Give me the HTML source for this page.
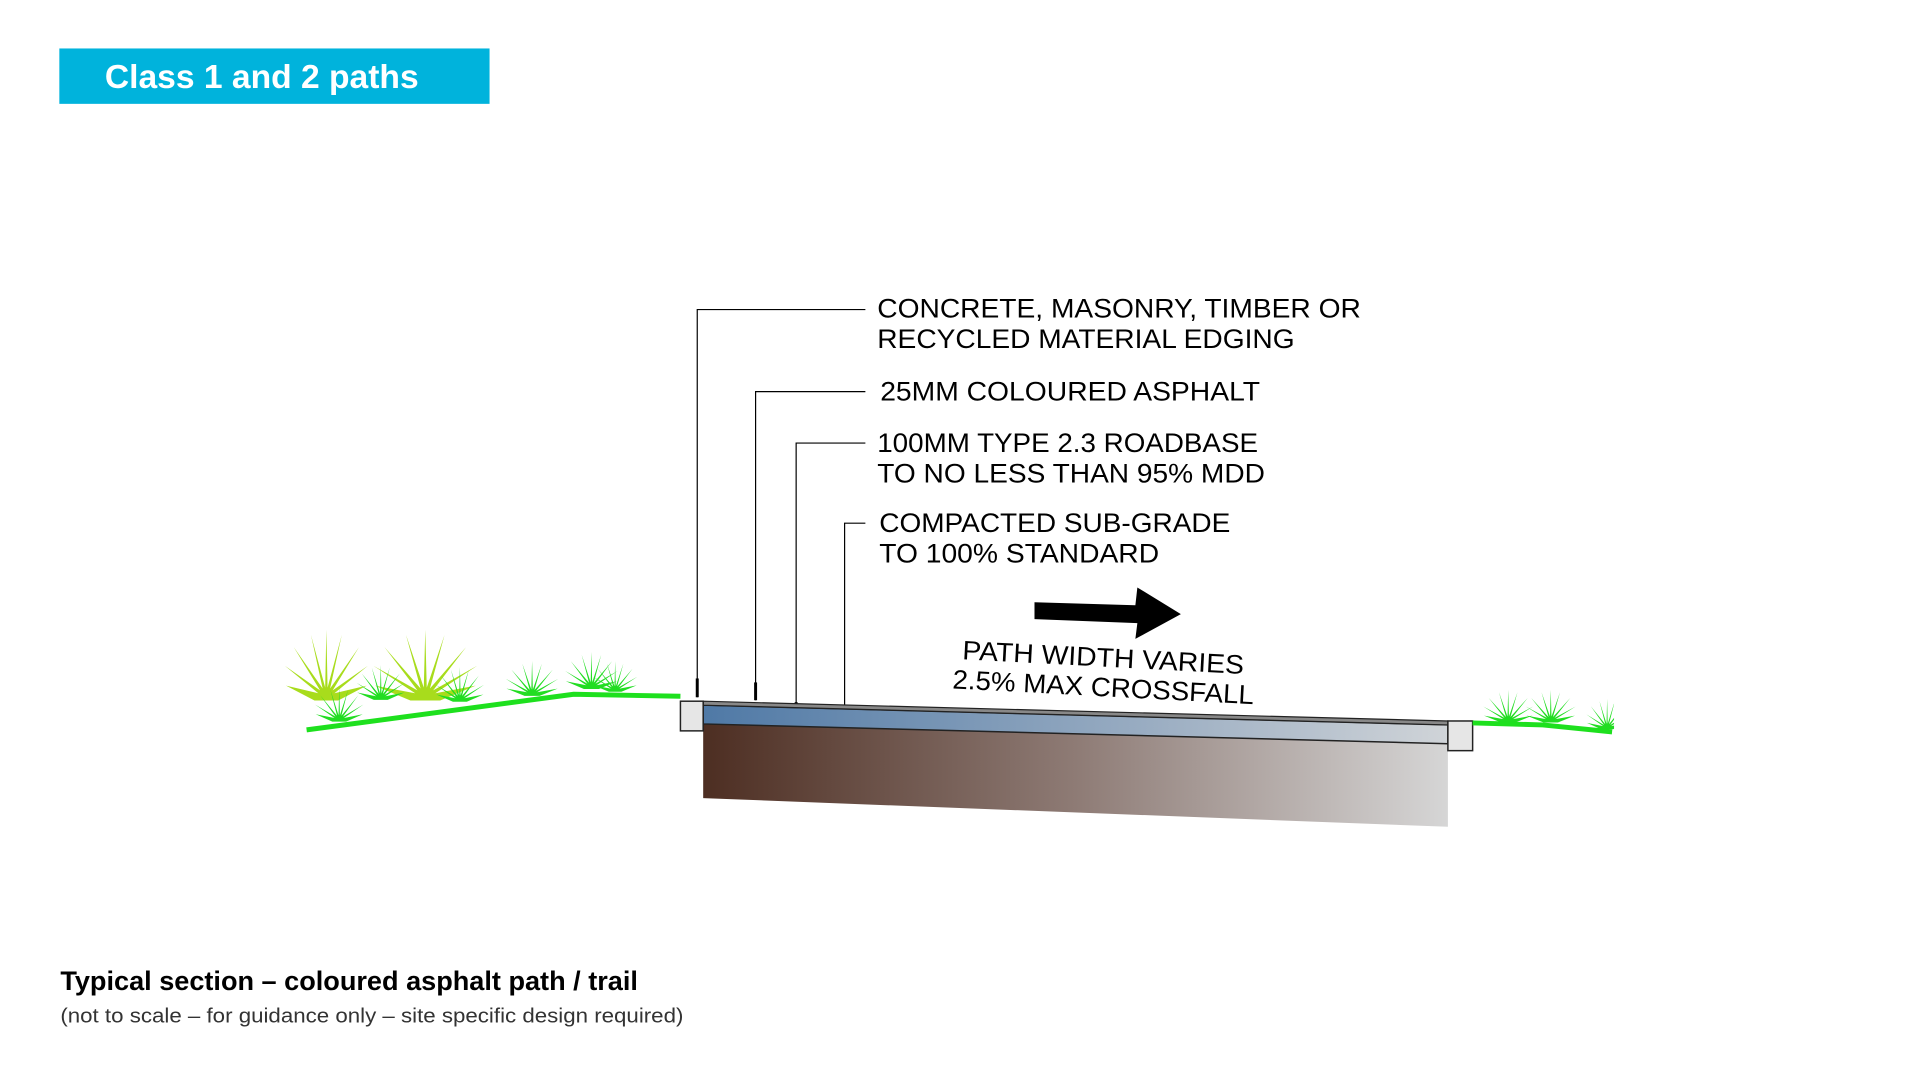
<!DOCTYPE html>
<html><head><meta charset="utf-8"><style>html,body{margin:0;padding:0;background:#fff;}svg{display:block}</style></head>
<body>
<svg width="1920" height="1080" viewBox="0 0 1920 1080" xmlns="http://www.w3.org/2000/svg">
<defs>
<polygon id="tuft" points="-0.2,0.05 -0.68,-0.18 -0.136,-0.063 -0.70,-0.49 -0.106,-0.106 -0.55,-0.78 -0.063,-0.136 -0.26,-0.97 -0.02,-0.149 0,-1.05 0.02,-0.149 0.26,-0.97 0.063,-0.136 0.55,-0.78 0.106,-0.106 0.70,-0.49 0.136,-0.063 0.68,-0.18 0.2,0.05"/>
<linearGradient id="sg" x1="0" x2="1" y1="0" y2="0"><stop offset="0" stop-color="#4d2e22"/><stop offset="0.5" stop-color="#8e7b75"/><stop offset="1" stop-color="#d6d6d6"/></linearGradient>
<linearGradient id="bl" x1="0" x2="1" y1="0" y2="0"><stop offset="0" stop-color="#4f79a6"/><stop offset="0.6" stop-color="#9aadc2"/><stop offset="1" stop-color="#d0d4d8"/></linearGradient>
</defs>
<g transform="scale(0.989)">
<rect x="60" y="49" width="435" height="56" fill="#00b3dc"/>
<text x="106" y="89" font-family="Liberation Sans, sans-serif" font-weight="bold" font-size="34" fill="#fff">Class 1 and 2 paths</text>

<g stroke="#000" stroke-width="1.2" fill="none">
<polyline points="875,313 705,313 705,705"/>
<polyline points="875,396 764,396 764,708"/>
<polyline points="875,448 805,448 805,726"/>
<polyline points="875,529 854,529 854,773"/>
</g>
<g stroke="#000" stroke-width="3">
<line x1="705" y1="686" x2="705" y2="705"/><line x1="764" y1="690" x2="764" y2="708"/><line x1="805" y1="710" x2="805" y2="728"/><line x1="854" y1="755" x2="854" y2="775"/>
</g>
<g font-family="Liberation Sans, sans-serif" font-size="27" fill="#000">
<text x="887" y="321" textLength="489" lengthAdjust="spacingAndGlyphs">CONCRETE, MASONRY, TIMBER OR</text>
<text x="887" y="352" textLength="422" lengthAdjust="spacingAndGlyphs">RECYCLED MATERIAL EDGING</text>
<text x="890" y="405" textLength="384" lengthAdjust="spacingAndGlyphs">25MM COLOURED ASPHALT</text>
<text x="887" y="457" textLength="385" lengthAdjust="spacingAndGlyphs">100MM TYPE 2.3 ROADBASE</text>
<text x="887" y="488" textLength="392" lengthAdjust="spacingAndGlyphs">TO NO LESS THAN 95% MDD</text>
<text x="889" y="538" textLength="355" lengthAdjust="spacingAndGlyphs">COMPACTED SUB-GRADE</text>
<text x="889" y="569" textLength="283" lengthAdjust="spacingAndGlyphs">TO 100% STANDARD</text>
</g>
<polygon points="1046,609 1148,612 1150,594 1194,621 1148,646 1150,630 1046,626" fill="#000"/>
<g font-family="Liberation Sans, sans-serif" font-size="27" fill="#000" text-anchor="middle">
<text x="1115" y="674" transform="rotate(3 1115 674)" textLength="285" lengthAdjust="spacingAndGlyphs">PATH WIDTH VARIES</text>
<text x="1115" y="704" transform="rotate(3 1115 704)" textLength="305" lengthAdjust="spacingAndGlyphs">2.5% MAX CROSSFALL</text>
</g>

<polygon points="711,732 1464,752 1464,836 711,807" fill="url(#sg)"/>
<polygon points="711,713 1464,733 1464,752 711,732" fill="url(#bl)" stroke="#222" stroke-width="1.5"/>
<polygon points="711,709 1464,729 1464,733 711,713" fill="#888" stroke="#222" stroke-width="1.2"/>
<rect x="688" y="709" width="23" height="30" fill="#e6e6e6" stroke="#222" stroke-width="1.5"/>
<rect x="1464" y="729" width="25" height="30" fill="#e6e6e6" stroke="#222" stroke-width="1.5"/>

<g fill="#a8dc1c">
<use href="#tuft" transform="translate(330,705) scale(60,65)"/>
<use href="#tuft" transform="translate(430,705) scale(75,65)"/>
</g>
<g fill="#22dd22">
<use href="#tuft" transform="translate(343,728) scale(35,32)"/>
<use href="#tuft" transform="translate(385,706) scale(35,32)"/>
<use href="#tuft" transform="translate(465,708) scale(35,32)"/>
<use href="#tuft" transform="translate(538,702) scale(38,32)"/>
<use href="#tuft" transform="translate(598,695) scale(38,34)"/>
<use href="#tuft" transform="translate(622,698) scale(32,28)"/>
<use href="#tuft" transform="translate(1525,729) scale(36,30)"/>
<use href="#tuft" transform="translate(1568,729) scale(36,30)"/>
<use href="#tuft" transform="translate(1625,736) scale(30,28)"/>
</g>
<polyline points="310,738 580,702 688,704" fill="none" stroke="#1ee01e" stroke-width="5"/>
<polyline points="1489,731 1560,733 1630,740" fill="none" stroke="#1ee01e" stroke-width="5"/>
<rect x="1632" y="690" width="60" height="80" fill="#fff"/>

<text x="61" y="1001" font-family="Liberation Sans, sans-serif" font-weight="bold" font-size="27" fill="#000" textLength="584" lengthAdjust="spacingAndGlyphs">Typical section –  coloured asphalt path / trail</text>
<text x="61" y="1034" font-family="Liberation Sans, sans-serif" font-size="21" fill="#333" textLength="630" lengthAdjust="spacingAndGlyphs">(not to scale – for guidance only – site specific design required)</text>
</g>
</svg>
</body></html>
